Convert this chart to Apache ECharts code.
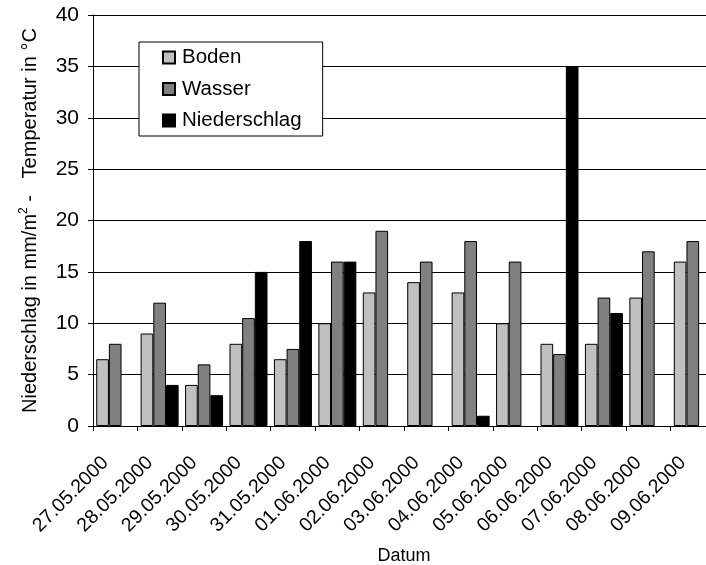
<!DOCTYPE html>
<html>
<head>
<meta charset="utf-8">
<script src="https://cdn.jsdelivr.net/npm/echarts@6/dist/echarts.min.js"></script>
<style>html,body{margin:0;padding:0;background:#fff}#c{width:706px;height:565px}</style>
</head>
<body>
<div id="c"></div>
<script>
const categories = ['27.05.2000','28.05.2000','29.05.2000','30.05.2000','31.05.2000','01.06.2000','02.06.2000','03.06.2000','04.06.2000','05.06.2000','06.06.2000','07.06.2000','08.06.2000','09.06.2000'];
const boden = [6.5, 9, 4, 8, 6.5, 10, 13, 14, 13, 10, 8, 8, 12.5, 16];
const wasser = [8, 12, 6, 10.5, 7.5, 16, 19, 16, 18, 16, 7, 12.5, 17, 18];
const niederschlag = [null, 4, 3, 15, 18, 16, null, null, 1, null, 35, 11, null, null];
const seriesNames = ['Boden', 'Wasser', 'Niederschlag'];
const seriesColors = ['#c0c0c0', '#808080', '#000000'];
const yTicks = [0, 5, 10, 15, 20, 25, 30, 35, 40];

const FONT = '"Liberation Sans", Arial, sans-serif';
const chart = echarts.init(document.getElementById('c'), null, {renderer: 'canvas'});
const data = [boden, wasser, niederschlag];
chart.setOption({
  animation: false,
  backgroundColor: '#ffffff',
  textStyle: {fontFamily: FONT, color: '#000'},
  grid: {left: 93, top: 15, bottom: 139, right: -9, containLabel: false, outerBoundsMode: 'none'},
  legend: {
    orient: 'vertical',
    left: 139, top: 42,
    padding: [5, 21, 5, 23],
    backgroundColor: '#ffffff',
    borderColor: '#000', borderWidth: 1,
    itemWidth: 12, itemHeight: 12, itemGap: 10.5,
    icon: 'rect',
    textStyle: {fontFamily: FONT, fontSize: 20.5, color: '#000', padding: [0, 0, 0, 2]},
    data: seriesNames
  },
  xAxis: {
    type: 'category',
    data: categories,
    boundaryGap: true,
    axisLine: {lineStyle: {color: '#000', width: 1}},
    axisTick: {show: true, length: 5, alignWithLabel: false, lineStyle: {color: '#000'}},
    axisLabel: {rotate: 45, fontFamily: FONT, fontSize: 19.5, color: '#000', margin: 24, padding: [0, 14, 0, 0], interval: 0},
    name: 'Datum',
    nameLocation: 'middle',
    nameGap: 121,
    nameTextStyle: {fontFamily: FONT, fontSize: 18, color: '#000'}
  },
  yAxis: {
    type: 'value',
    min: yTicks[0], max: yTicks[yTicks.length - 1], interval: 5,
    axisLine: {show: true, lineStyle: {color: '#000', width: 1}},
    axisTick: {show: true, length: 5, lineStyle: {color: '#000'}},
    axisLabel: {fontFamily: FONT, fontSize: 21, color: '#000', margin: 14},
    splitLine: {show: true, lineStyle: {color: '#000', width: 1}},
    name: '{a|Niederschlag in mm/m}{s|2}{a| -   Temperatur in °C}',
    nameLocation: 'middle',
    nameGap: 53,
    nameTextStyle: {
      fontFamily: FONT, fontSize: 20, color: '#000',
      rich: {
        a: {fontFamily: FONT, fontSize: 20, color: '#000', lineHeight: 22, verticalAlign: 'bottom'},
        s: {fontFamily: FONT, fontSize: 12, color: '#000', lineHeight: 22, verticalAlign: 'top', padding: [0, 0, 8, 0]}
      }
    }
  },
  series: seriesNames.map((n, i) => ({
    name: n,
    type: 'bar',
    data: data[i],
    barGap: '0%',
    barCategoryGap: '14.5%',
    itemStyle: {color: seriesColors[i], borderColor: '#000', borderWidth: 1}
  }))
});
</script>
</body>
</html>
